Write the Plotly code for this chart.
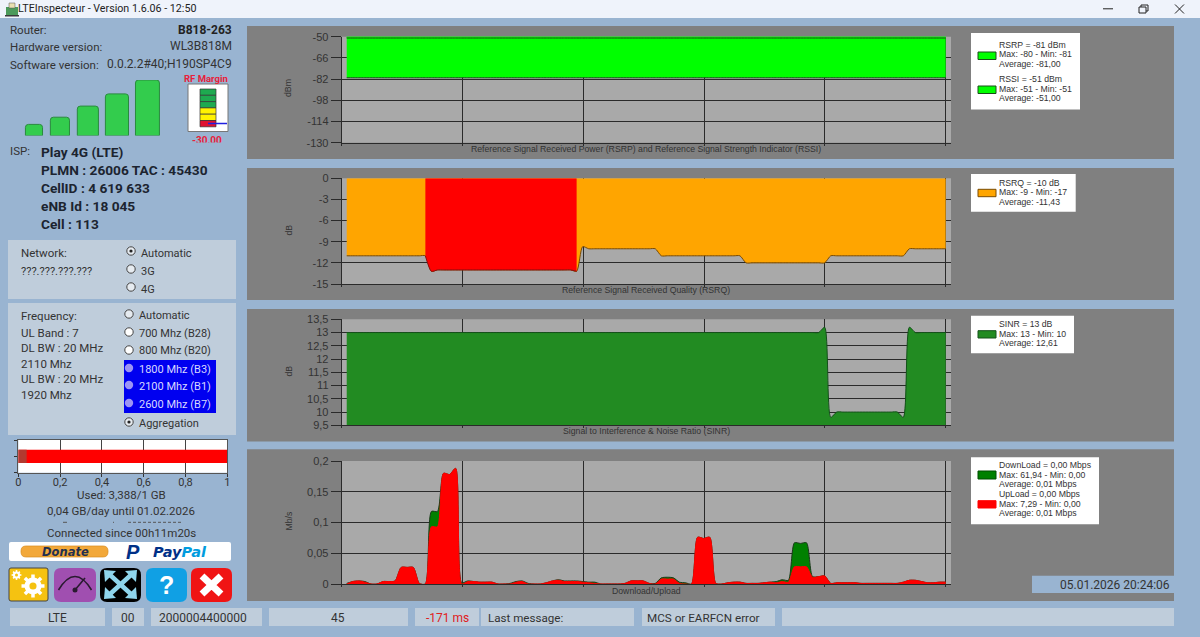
import math
import plotly.graph_objects as go

W = 1200
H = 637

# --- chart data, one value per sample ---
samples = list(range(100))

rsrp = [-81, -81, -81, -81, -81, -81, -81, -81, -81, -81, -81, -81, -81, -81, -81, -81, -81, -81, -81, -81,
        -81, -81, -81, -81, -81, -81, -81, -81, -81, -81, -81, -81, -81, -81, -81, -81, -81, -81, -81, -81,
        -81, -81, -81, -81, -81, -81, -81, -81, -81, -81, -81, -81, -81, -81, -81, -81, -81, -81, -81, -81,
        -81, -81, -81, -81, -81, -81, -81, -81, -81, -81, -81, -81, -81, -81, -81, -81, -81, -81, -81, -81,
        -81, -81, -81, -81, -81, -81, -81, -81, -81, -81, -81, -81, -81, -81, -81, -81, -81, -81, -81, -81]
rssi = [-51, -51, -51, -51, -51, -51, -51, -51, -51, -51, -51, -51, -51, -51, -51, -51, -51, -51, -51, -51,
        -51, -51, -51, -51, -51, -51, -51, -51, -51, -51, -51, -51, -51, -51, -51, -51, -51, -51, -51, -51,
        -51, -51, -51, -51, -51, -51, -51, -51, -51, -51, -51, -51, -51, -51, -51, -51, -51, -51, -51, -51,
        -51, -51, -51, -51, -51, -51, -51, -51, -51, -51, -51, -51, -51, -51, -51, -51, -51, -51, -51, -51,
        -51, -51, -51, -51, -51, -51, -51, -51, -51, -51, -51, -51, -51, -51, -51, -51, -51, -51, -51, -51]
rsrq = [-11, -11, -11, -11, -11, -11, -11, -11, -11, -11, -11, -11, -11, -11, -13.2, -13, -13, -13, -13, -13,
        -13, -13, -13, -13, -13, -13, -13, -13, -13, -13, -13, -13, -13, -13, -13, -13, -13, -13, -13.2, -9.7,
        -10, -10, -10, -10, -10, -10, -10, -10, -10, -10, -10, -10, -11, -11, -11, -11, -11, -11, -11, -11,
        -11, -11, -11, -11, -11, -11, -12, -12, -12, -12, -12, -12, -12, -12, -12, -12, -12, -12, -12, -12,
        -11, -11, -11, -11, -11, -11, -11, -11, -11, -11, -11, -11, -11, -10, -10, -10, -10, -10, -10, -10]
sinr = [13, 13, 13, 13, 13, 13, 13, 13, 13, 13, 13, 13, 13, 13, 13, 13, 13, 13, 13, 13,
        13, 13, 13, 13, 13, 13, 13, 13, 13, 13, 13, 13, 13, 13, 13, 13, 13, 13, 13, 13,
        13, 13, 13, 13, 13, 13, 13, 13, 13, 13, 13, 13, 13, 13, 13, 13, 13, 13, 13, 13,
        13, 13, 13, 13, 13, 13, 13, 13, 13, 13, 13, 13, 13, 13, 13, 13, 13, 13, 13, 13.2,
        9.8, 10, 10, 10, 10, 10, 10, 10, 10, 10, 10, 10, 9.8, 13.2, 13, 13, 13, 13, 13, 13]
download = [0.001, 0.004, 0.005, 0.004, 0.0, 0.0, 0.004, 0.004, 0.005, 0.027,
            0.027, 0.027, 0.001, 0.0, 0.118, 0.118, 0.18, 0.178, 0.188, 0.002,
            0.005, 0.004, 0.003, 0.003, 0.003, 0.0, 0.0, 0.001, 0.004, 0.005,
            0.001, 0.0, 0.0, 0.002, 0.005, 0.007, 0.005, 0.005, 0.005, 0.004,
            0.003, 0.003, 0.0, 0.0, 0.0, 0.0, 0.001, 0.005, 0.005, 0.005,
            0.001, 0.001, 0.01, 0.011, 0.01, 0.003, 0.002, 0.0, 0.076, 0.074,
            0.076, 0.001, 0.0, 0.002, 0.003, 0.003, 0.001, 0.001, 0.001, 0.002,
            0.003, 0.004, 0.007, 0.006, 0.067, 0.066, 0.067, 0.012, 0.012, 0.013,
            0.001, 0.002, 0.002, 0.002, 0.002, 0.001, 0.001, 0.001, 0.001, 0.001,
            0.001, 0.001, 0.003, 0.006, 0.006, 0.004, 0.002, 0.002, 0.003, 0.003]
upload = [0.0, 0.004, 0.005, 0.003, 0.0, 0.0, 0.004, 0.004, 0.005, 0.027,
          0.027, 0.027, 0.001, 0.0, 0.093, 0.093, 0.18, 0.178, 0.188, 0.0,
          0.004, 0.004, 0.003, 0.003, 0.003, 0.0, 0.0, 0.0, 0.003, 0.004,
          0.0, 0.0, 0.0, 0.002, 0.005, 0.006, 0.004, 0.004, 0.004, 0.003,
          0.002, 0.001, 0.0, 0.0, 0.0, 0.0, 0.001, 0.005, 0.005, 0.005,
          0.001, 0.0, 0.008, 0.008, 0.008, 0.001, 0.0, 0.0, 0.076, 0.074,
          0.076, 0.001, 0.0, 0.002, 0.003, 0.003, 0.001, 0.001, 0.001, 0.002,
          0.003, 0.002, 0.004, 0.003, 0.028, 0.028, 0.028, 0.011, 0.012, 0.013,
          0.001, 0.002, 0.002, 0.002, 0.002, 0.001, 0.001, 0.001, 0.001, 0.001,
          0.001, 0.001, 0.003, 0.006, 0.006, 0.004, 0.002, 0.002, 0.003, 0.003]

rsrp_ticks = [-50, -66, -82, -98, -114, -130]
rsrq_ticks = [0, -3, -6, -9, -12, -15]
sinr_ticks = [13.5, 13, 12.5, 12, 11.5, 11, 10.5, 10, 9.5]
sinr_labels = ["13,5", "13", "12,5", "12", "11,5", "11", "10,5", "10", "9,5"]
rate_ticks = [0.2, 0.15, 0.1, 0.05, 0]
rate_labels = ["0,2", "0,15", "0,1", "0,05", "0"]

signal_bars = [0.2, 0.33, 0.53, 0.75, 1.0]
signal_pos = [1, 1.91, 2.89, 3.91, 4.98]
signal_width = [0.6, 0.67, 0.74, 0.81, 0.84]

quota_used = 3.388
quota_daily = 0.04
quota_ticks = [0, 0.2, 0.4, 0.6, 0.8, 1]
quota_labels = ["0", "0,2", "0,4", "0,6", "0,8", "1"]

BG = "#99B4D1"
BOX = "#BFCDDB"
PANEL = "#808080"
PLOT = "#A9A9A9"
INK = "#333333"
GRID = "#2a2a2a"
UI = "Roboto"
CHART = "Liberation Sans"
YELLOW = "#F5C211"

shapes = []
annots = []


def fx(x):
    return x / W


def fy(y):
    return 1 - y / H


def rect(x0, y0, x1, y1, fill, line=None, width=1, layer="above"):
    shapes.append(dict(type="rect", xref="paper", yref="paper", x0=fx(x0), x1=fx(x1), y0=fy(y0), y1=fy(y1),
                       fillcolor=fill, layer=layer,
                       line=dict(color=line or fill, width=width if line else 0)))


def path(d, fill=None, line=None, width=1, dash="solid"):
    out = []
    for tok in d.split():
        if "," in tok:
            a, b = tok.split(",")
            out.append(f"{fx(float(a)):.5f},{fy(float(b)):.5f}")
        else:
            out.append(tok)
    shapes.append(dict(type="path", xref="paper", yref="paper", path=" ".join(out),
                       fillcolor=fill or "rgba(0,0,0,0)",
                       line=dict(color=line or "rgba(0,0,0,0)", width=width, dash=dash)))


def round_rect(x0, y0, x1, y1, r, fill, line=None, width=1):
    path(f"M {x0+r},{y0} L {x1-r},{y0} Q {x1},{y0} {x1},{y0+r} L {x1},{y1-r} Q {x1},{y1} {x1-r},{y1} "
         f"L {x0+r},{y1} Q {x0},{y1} {x0},{y1-r} L {x0},{y0+r} Q {x0},{y0} {x0+r},{y0} Z", fill, line, width)


def circle(cx, cy, r, fill, line=None):
    shapes.append(dict(type="circle", xref="paper", yref="paper", x0=fx(cx - r), x1=fx(cx + r),
                       y0=fy(cy - r), y1=fy(cy + r), fillcolor=fill,
                       line=dict(color=line or fill, width=1 if line else 0)))


def gear(cx, cy, r, width):
    # settings icon, only decoration
    for i in range(4):
        a = i * math.pi / 4
        dx, dy = 1.35 * r * math.cos(a), 1.35 * r * math.sin(a)
        path(f"M {cx-dx:.1f},{cy-dy:.1f} L {cx+dx:.1f},{cy+dy:.1f}", line="white", width=width)
    circle(cx, cy, r, "white")
    circle(cx, cy, r * 0.42, YELLOW)


def text(x, y, s, size=12, color=INK, anchor="left", font=UI, angle=0):
    # annotations sit a little inside their anchor
    if anchor == "left":
        x -= 1
    elif anchor == "right":
        x += 2
    annots.append(dict(xref="paper", yref="paper", x=fx(x), y=fy(y), text=s, showarrow=False,
                       xanchor=anchor, yanchor="middle", textangle=angle, borderpad=0,
                       font=dict(family=font, size=size, color=color)))


def cover(x0, y0, x1, y1, fill=BG):
    # hides the lower part of the RF margin value, the app clips that label
    annots.append(dict(xref="paper", yref="paper", x=fx(x0), y=fy(y0), text=" ", showarrow=False,
                       xanchor="left", yanchor="top", width=x1 - x0, height=y1 - y0, bgcolor=fill,
                       borderpad=0, font=dict(size=1)))


# --- window and panels ---
rect(0, 0, W, 18, "#EFF3FB", layer="below")
AREAS = [(26, 159, 36.7, 142.7), (168, 300, 178.3, 284), (309, 441.5, 319.3, 425.3), (449.3, 601, 461, 584)]
for top, bottom, p_top, p_bottom in AREAS:
    rect(247, top, 1174, bottom, PANEL, layer="below")
    rect(341.7, p_top, 951, p_bottom, PLOT, layer="below")
rect(8, 240, 236, 299, BOX, layer="below")
rect(8, 303, 236, 435, BOX, layer="below")
rect(18.3, 440, 227.3, 472.7, "white", layer="below")

# title bar
rect(6, 7, 18, 15, "#4C9A5B")
rect(9, 3, 15, 8, "#E8E0B0", "#555555", 0.5)
rect(5, 15, 19, 16.5, "#3A3A3A")
text(18, 9, "LTEInspecteur - Version 1.6.06 - 12:50", 10.7, "#222222")
path("M 1103,8.8 L 1113,8.8", line="#222222")
path("M 1139,7 L 1146,7 L 1146,13 L 1139,13 Z M 1141,7 L 1141,5 L 1148,5 L 1148,11 L 1146,11", line="#222222")
path("M 1175,4.5 L 1184,13.5 M 1184,4.5 L 1175,13.5", line="#222222")

# router block
text(10, 30, "Router:", 11.5)
text(231, 30, "<b>B818-263</b>", 12, "#222222", "right")
text(10, 47.5, "Hardware version:", 11.5)
text(231, 46.5, "WL3B818M", 12, INK, "right")
text(10, 65, "Software version:", 11.5)
text(231, 64, "0.0.2.2#40;H190SP4C9", 12, INK, "right")
text(184, 78, "<b>RF Margin</b>", 9.5, "#E8203A")

# RF margin gauge
rect(188, 84, 228, 131.5, "white", "#777777", 1)
for i, c in enumerate(["#1EAA50", "#1EAA50", "#1EAA50", "#FFF200", "#FFF200", "#E01030"]):
    rect(200, 89 + i * 6.3, 216, 95.3 + i * 6.3, c, "#333333", 0.7)
path("M 208,123.5 L 227,123.5", line="#2020E0", width=1.5)
text(207, 140, "<b>-30.00</b>", 10, "#E8203A", "center")
cover(184, 141.5, 232, 146)

# operator block
text(10, 151, "ISP:", 11.5)
for y, s in [(152, "Play 4G (LTE)"), (170, "PLMN : 26006 TAC : 45430"), (188, "CellID : 4 619 633"),
             (206, "eNB Id : 18 045"), (224, "Cell : 113")]:
    text(41, y, f"<b>{s}</b>", 13.7, "#1c2430")

# network box
text(21, 253, "Network:", 11.5)
text(21, 271, "???.???.???.???", 11)
for y, s, on in [(251, "Automatic", True), (269, "3G", False), (287, "4G", False)]:
    circle(131, y, 4.2, "#E6EBF0", "#444444")
    if on:
        circle(131, y, 1.6, "#222222")
    text(141, y + 2, s, 11)

# frequency box
text(21, 316, "Frequency:", 11.5)
for y, s in [(333, "UL Band : 7"), (348, "DL BW : 20 MHz"), (364, "2110 Mhz"), (379, "UL BW : 20 MHz"), (395, "1920 Mhz")]:
    text(21, y, s, 11.5)
rect(124, 360, 216, 413, "#0000F0")
for y, s, fill, col in [(315, "Automatic", "#E6EBF0", INK), (333, "700 Mhz (B28)", "#FFFFFF", INK),
                        (351, "800 Mhz (B20)", "#FFFFFF", INK), (369, "1800 Mhz (B3)", "#9C94F4", "#D8D8FF"),
                        (386, "2100 Mhz (B1)", "#9C94F4", "#D8D8FF"), (404, "2600 Mhz (B7)", "#9C94F4", "#D8D8FF"),
                        (423, "Aggregation", "#E6EBF0", INK)]:
    circle(129, y - 1, 4.2, fill, None if col != INK else "#444444")
    if s == "Aggregation":
        circle(129, y - 1, 1.6, "#222222")
    text(139, y, s, 11, col)

# usage labels, the third line is cut off in the app and only its top pixels show
text(121, 495, "Used: 3,388/1 GB", 11.5, INK, "center")
text(121, 511, "0,04 GB/day until 01.02.2026", 11.5, INK, "center")
path("M 63,522.3 L 67,522.3 M 113,522.3 L 114,522.3", line="#555555", width=1)
path("M 128,522.3 L 182,522.3", line="#555555", width=1, dash="3px,2px")
text(121, 533, "Connected since 00h11m20s", 11.5, INK, "center")

# donate strip
round_rect(9, 542, 231, 561, 2, "white")
round_rect(21, 546, 108, 557, 5, "#F2A83A", "#D98C20", 0.7)
text(65, 551.5, "<b><i>Donate</i></b>", 11.5, "#23304F", "center", "DejaVu Sans")
text(126, 551.5, "<b><i>P</i></b>", 20, "#003087", "left", CHART)
text(153, 551.5, "<b><i><span style='color:#003087'>Pay</span><span style='color:#009CDE'>Pal</span></i></b>",
     14.5, "#003087", "left", "DejaVu Sans")

# tool buttons
round_rect(9, 568, 48, 601, 2, YELLOW, "#444444", 1)
gear(33, 586, 8.5, 3.5)
gear(16.5, 575, 3.6, 1.6)
round_rect(54, 568, 96, 602, 7, "#A04FB0")
path("M 58.5,590 Q 75,563 91.5,590", line="#2A1A30", width=1.6)
path("M 75,590 L 85,578", line="#2A1A30", width=1.6)
circle(75, 590, 2.5, "#2A1A30")
round_rect(100, 568, 141, 602, 7, "#000000")
path("M 109,574 L 132,595 M 132,574 L 109,595", line="#8FD5EC", width=4.5)
path("M 104,570 L 116,571 L 105,582 Z", fill="#8FD5EC")
path("M 137,570 L 125,571 L 136,582 Z", fill="#8FD5EC")
path("M 104,599 L 116,598 L 105,587 Z", fill="#8FD5EC")
path("M 137,599 L 125,598 L 136,587 Z", fill="#8FD5EC")
round_rect(146, 568, 187, 602, 7, "#10A0E4")
text(166.5, 585, "<b>?</b>", 25, "white", "center", CHART)
round_rect(191, 568, 232, 602, 7, "#F01414")
path("M 202,576 L 221,594 M 221,576 L 202,594", line="white", width=7)

# status row
for x0, x1 in [(10, 105), (112, 144), (151, 262), (269, 408), (415, 479), (481, 634), (642, 775), (782, 1174)]:
    rect(x0, 608, x1, 626, BOX)
for x, s, size, col, anc in [(57, "LTE", 12, INK, "center"), (128, "00", 12, INK, "center"),
                             (203, "2000004400000", 12, INK, "center"), (338, "45", 12, INK, "center"),
                             (447, "-171 ms", 12, "#E02020", "center"), (488, "Last message:", 11.6, INK, "left"),
                             (647, "MCS or EARFCN error", 11.7, INK, "left")]:
    text(x, 617.5, s, size, col, anc)
rect(1032, 575.7, 1174, 593, BG)
text(1169, 585, "05.01.2026 20:24:06", 12, INK, "right")

# chart captions
for y, s in [(148.5, "Reference Signal Received Power (RSRP) and Reference Signal Strength Indicator (RSSI)"),
             (290, "Reference Signal Received Quality (RSRQ)"),
             (431, "Signal to Interference & Noise Ratio (SINR)"),
             (590.5, "Download/Upload")]:
    text(646, y, s, 8.7, INK, "center", CHART)
for y, s in [(88, "dBm"), (230.5, "dB"), (371.5, "dB"), (521.5, "Mb/s")]:
    text(288, y, s, 8.7, INK, "center", CHART, -90)

# legends
LEGENDS = [
    ((971, 33, 1080, 109.5), [(52, 59.5, "#00FF00", "#1a4d1a"), (86, 93.5, "#00FF00", "#1a4d1a")],
     [(45, "RSRP = -81 dBm"), (54.5, "Max: -80 - Min: -81"), (64, "Average: -81,00"),
      (79.5, "RSSI = -51 dBm"), (89, "Max: -51 - Min: -51"), (98.5, "Average: -51,00")]),
    ((971, 174, 1075.7, 211.7), [(189.3, 196.7, "#FFA500", "#7a4a00")],
     [(182.7, "RSRQ = -10 dB"), (192, "Max: -9 - Min: -17"), (201.5, "Average: -11,43")]),
    ((971, 315.7, 1074, 353.3), [(330.7, 338, "#228B22", "#14501a")],
     [(324, "SINR = 13 dB"), (333.5, "Max: 13 - Min: 10"), (343, "Average: 12,61")]),
    ((971, 457.3, 1099, 524.3), [(471, 479, "#008000", "#004d00"), (500.7, 508, "#FF0000", "#FF0000")],
     [(465, "DownLoad = 0,00 Mbps"), (474.5, "Max: 61,94 - Min: 0,00"), (484, "Average: 0,01 Mbps"),
      (494, "UpLoad = 0,00 Mbps"), (503.5, "Max: 7,29 - Min: 0,00"), (513, "Average: 0,01 Mbps")]),
]
for (x0, y0, x1, y1), swatches, lines in LEGENDS:
    rect(x0, y0, x1, y1, "white")
    for top, bottom, fill, edge in swatches:
        rect(978, top, 996, bottom, fill, edge, 1)
    for y, s in lines:
        text(999, y, s, 8.7, INK, "left", CHART)

fig = go.Figure()


def area(y, color, edge, axis, x=samples):
    fig.add_trace(go.Scatter(x=x, y=y, mode="lines", fill="tozeroy", fillcolor=color,
                             line=dict(color=edge, width=1, shape="spline", smoothing=0.7),
                             xaxis=f"x{axis}", yaxis=f"y{axis}", showlegend=False, hoverinfo="skip"))


area(rsrp, "#00FF00", "#1a4d1a", 1)
area(rssi, "#00FF00", "#1a4d1a", 1)
area(rsrq, "#FFA500", "#7a4a00", 2)
area(rsrq[13:39], "#FF0000", "#8a1010", 2, samples[13:39])
area(sinr, "#228B22", "#14501a", 3)
area(download, "#008000", "#1a3a1a", 4)
area(upload, "#FF0000", "#FF0000", 4)

fig.add_trace(go.Bar(x=signal_pos, y=signal_bars, width=signal_width, xaxis="x5", yaxis="y5",
                     marker=dict(color="#33CC4D", line=dict(color="#2A8A3E", width=1), cornerradius=3),
                     showlegend=False, hoverinfo="skip"))
fig.add_trace(go.Bar(x=[quota_used], y=[0], width=0.8, orientation="h", xaxis="x6", yaxis="y6",
                     marker=dict(color="#FF0000", line=dict(width=0)), showlegend=False, hoverinfo="skip"))
fig.add_trace(go.Bar(x=[quota_daily], y=[0], width=0.8, orientation="h", xaxis="x6", yaxis="y6",
                     marker=dict(color="#B23A30", line=dict(width=0)), showlegend=False, hoverinfo="skip"))

layout = dict(width=W, height=H, margin=dict(l=0, r=0, t=0, b=0, autoexpand=False), paper_bgcolor=BG,
              plot_bgcolor="rgba(0,0,0,0)", barmode="overlay", showlegend=False, shapes=shapes, annotations=annots)

RANGES = [(-130, -50), (-15, 0), (9.5, 13.5), (0, 0.2)]
TICKS = [(rsrp_ticks, [str(v) for v in rsrp_ticks]), (rsrq_ticks, [str(v) for v in rsrq_ticks]),
         (sinr_ticks, sinr_labels), (rate_ticks, rate_labels)]
for i, (_, _, p_top, p_bottom) in enumerate(AREAS):
    n = i + 1
    layout[f"xaxis{n}"] = dict(domain=[fx(341.7), fx(951)], range=[-0.83, 99.88], anchor=f"y{n}",
                               tick0=-0.83, dtick=19.97, ticks="outside", ticklen=2, tickcolor=GRID,
                               showticklabels=False, showgrid=True, gridcolor=GRID, gridwidth=1,
                               zeroline=False, showline=True, linecolor=GRID, linewidth=1)
    layout[f"yaxis{n}"] = dict(domain=[fy(p_bottom), fy(p_top)], range=list(RANGES[i]), anchor=f"x{n}",
                               tickmode="array", tickvals=TICKS[i][0], ticktext=TICKS[i][1],
                               ticks="outside", ticklen=10, tickcolor=GRID, showgrid=True, gridcolor=GRID,
                               gridwidth=1, zeroline=False, showline=True, linecolor=GRID, linewidth=1,
                               tickfont=dict(family=CHART, size=11, color=INK))

# signal strength bars
layout["xaxis5"] = dict(domain=[fx(24), fx(160)], range=[0.65, 5.42], anchor="y5", visible=False)
layout["yaxis5"] = dict(domain=[fy(135.5), fy(80)], range=[0, 1], anchor="x5", visible=False)
# quota bar
layout["xaxis6"] = dict(domain=[fx(18.3), fx(227.3)], range=[0, 1], anchor="y6", tickmode="array",
                        tickvals=quota_ticks, ticktext=quota_labels, ticks="outside", ticklen=3, tickcolor=INK,
                        ticklabelstandoff=-4, showgrid=True, gridcolor="#444444", gridwidth=1, zeroline=False,
                        showline=True, mirror=True, linecolor="#555555", linewidth=1,
                        tickfont=dict(family=UI, size=11, color=INK))
layout["yaxis6"] = dict(domain=[fy(472.7), fy(440)], range=[-1, 1], anchor="x6", tickmode="array",
                        tickvals=[-1, 0, 1], ticktext=["", "", ""], ticks="outside", ticklen=3, tickcolor=INK,
                        showgrid=False, zeroline=False, showline=True, mirror=True, linecolor="#555555", linewidth=1)

fig.update_layout(**layout)

fig.write_html("out.html", config={"displayModeBar": False}, post_script="document.body.style.margin='0';")
